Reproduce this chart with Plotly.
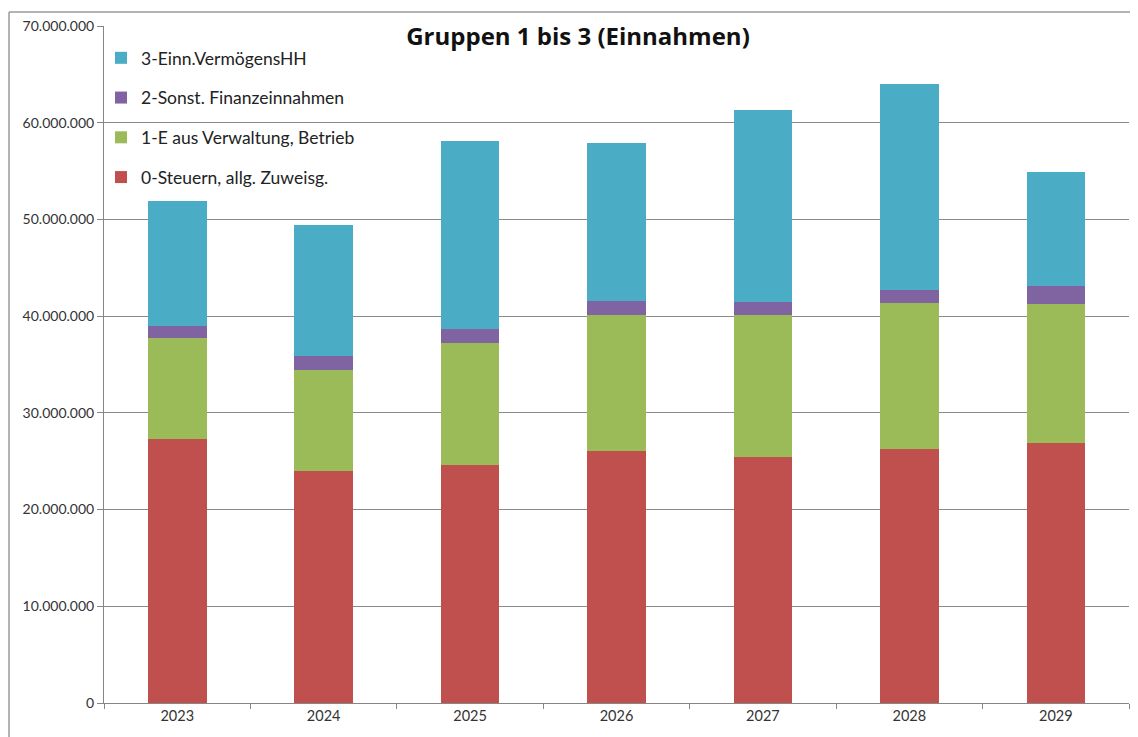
import plotly.graph_objects as go

years = ["2023", "2024", "2025", "2026", "2027", "2028", "2029"]
steuern = [27300000, 24000000, 24650000, 26100000, 25400000, 26270000, 26880000]
verwaltung = [10400000, 10470000, 12600000, 13980000, 14670000, 15120000, 14410000]
finanz = [1300000, 1360000, 1440000, 1440000, 1440000, 1340000, 1850000]
vermoegen = [12900000, 13550000, 19380000, 16430000, 19830000, 21320000, 11800000]

series_names = [
    "0-Steuern, allg. Zuweisg.",
    "1-E aus Verwaltung, Betrieb",
    "2-Sonst. Finanzeinnahmen",
    "3-Einn.VermögensHH",
]
series_values = [steuern, verwaltung, finanz, vermoegen]
series_colors = ["#C0504D", "#9BBB59", "#8064A2", "#4BACC6"]

# page has an 8px body margin; figure is sized to fill the rest of the window
OFF = 8
W, H = 1138 - OFF, 737 - OFF
L, R, T, B = 104 - OFF, 9, 23 - OFF, 34

def px_x(p):  # page pixel -> paper x
    return (p - 104) / 1025

def px_y(p):  # page pixel -> paper y
    return (703 - p) / 680

fig = go.Figure()
for i, (name, vals, col) in enumerate(zip(series_names, series_values, series_colors)):
    fig.add_trace(go.Bar(
        x=years, y=vals, name=name,
        legendgroup="g%d" % i,
        legendrank=100 - i,
        marker=dict(color=col, line=dict(width=0)),
        width=0.4,
    ))

fig.update_layout(
    width=W, height=H,
    margin=dict(l=L, r=R, t=T, b=B),
    barmode="stack",
    paper_bgcolor="white",
    plot_bgcolor="white",
    separators=",.",
    font=dict(family="Lato, 'Open Sans', sans-serif", color="#222222"),
    title=dict(
        text="<b>Gruppen 1 bis 3 (Einnahmen)</b>",
        font=dict(size=24, color="#111111", family="'Open Sans', Lato, sans-serif"),
        xref="paper", x=px_x(578), xanchor="center",
        yref="container", y=1 - (37 - OFF) / H, yanchor="middle",
    ),
    legend=dict(
        x=px_x(101), y=px_y(37), xanchor="left", yanchor="top",
        traceorder="grouped",
        tracegroupgap=14,
        font=dict(size=17.5, color="#222222", family="Lato, 'Open Sans', sans-serif"),
        bgcolor="rgba(0,0,0,0)",
        itemwidth=30,
    ),
    xaxis=dict(
        type="category",
        showline=True, linecolor="#868686", linewidth=1,
        ticks="outside", tickson="boundaries", ticklen=5, tickcolor="#868686",
        tickfont=dict(size=14.5, color="#333333"),
        showgrid=False,
    ),
    yaxis=dict(
        range=[0, 70000000],
        tickvals=[0, 10000000, 20000000, 30000000, 40000000, 50000000, 60000000, 70000000],
        tickformat=",.0f",
        showline=True, linecolor="#868686", linewidth=1,
        ticks="outside", ticklen=6, tickcolor="#868686",
        tickfont=dict(size=14, color="#333333"),
        showgrid=True, gridcolor="#8a8a8a", gridwidth=1,
        zeroline=False,
    ),
    shapes=[
        dict(type="line", xref="paper", yref="paper",
             x0=px_x(9), x1=px_x(1145), y0=px_y(9), y1=px_y(9),
             line=dict(color="#9a9a9a", width=1.5)),
        dict(type="line", xref="paper", yref="paper",
             x0=px_x(9), x1=px_x(9), y0=px_y(9), y1=px_y(745),
             line=dict(color="#9a9a9a", width=1.5)),
    ],
    showlegend=True,
)

fig.write_html("out.html")
